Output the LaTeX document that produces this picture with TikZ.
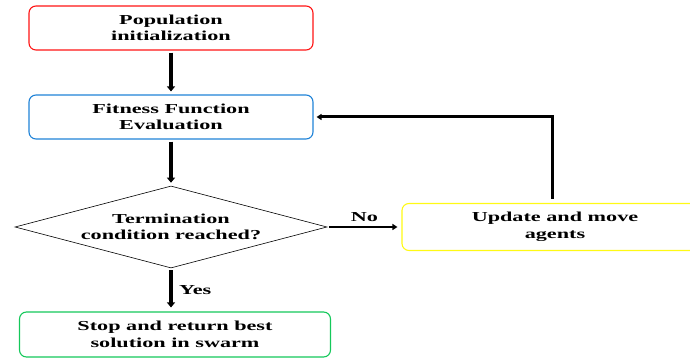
\documentclass[tikz,border=0pt]{standalone}
\usepackage{fontspec}
\setmainfont{Liberation Serif}[FakeStretch=1.62]
\usetikzlibrary{positioning, shapes.geometric, arrows.meta}

\definecolor{boxred}{RGB}{255,20,20}
\definecolor{boxblue}{RGB}{30,130,215}
\definecolor{boxgreen}{RGB}{20,200,90}
\definecolor{boxyellow}{RGB}{255,250,20}

\tikzset{
    stepbox/.style={draw, rounded corners=7pt, line width=1.1pt, align=center,
        minimum width=284pt, minimum height=44pt, inner sep=0pt,
        font=\fontsize{13.7}{16.5}\selectfont\bfseries},
    decision/.style={draw, diamond, shape aspect=3.8, line width=0.6pt, align=center,
        minimum width=312pt, minimum height=82pt, inner sep=0pt,
        font=\fontsize{13.7}{16.5}\selectfont\bfseries},
    flow/.style={line width=3.8pt, -{Triangle[width=8pt,length=5pt]}},
    thinflow/.style={line width=2.2pt, -{Triangle[width=6pt,length=5pt]}},
    lbl/.style={font=\fontsize{13.7}{16.5}\selectfont\bfseries}
}

\begin{document}
\begin{tikzpicture}[x=1pt, y=1pt]
    \useasboundingbox (0,0) rectangle (690,358);

    \node[stepbox, draw=boxred]  (pop) at (171,330) {Population\\initialization};
    \node[stepbox, draw=boxblue] (fit) at (171,241) {Fitness Function\\Evaluation};
    \node[decision]              (term) at (171,131) {Termination\\condition reached?};
    \node[stepbox, draw=boxyellow, minimum width=306pt, minimum height=47pt]
                                 (update) at (555,131) {Update and move\\agents};
    \node[stepbox, draw=boxgreen, minimum width=311pt, minimum height=45pt]
                                 (stop) at (175,23.5) {Stop and return best\\solution in swarm};

    % main flow
    \draw[flow, shorten <=2pt, shorten >=3pt] (pop) -- (fit);
    \draw[flow, shorten <=2pt, shorten >=3pt] (fit) -- (term);
    \draw[flow, shorten <=2pt, shorten >=4pt] (term.south) -- (term.south |- stop.north)
        node[lbl, midway, right=3pt] {Yes};
    \draw[thinflow, shorten <=2pt, shorten >=4pt] (term.east) -- (update.west)
        node[lbl, midway, above=1pt] {No};

    % loop back
    \coordinate (turn) at ([xshift=-3pt]update.north |- fit.east);
    \draw[thinflow, line width=3pt, shorten >=3pt]
        ([xshift=-3pt, yshift=4pt]update.north) -- (turn) -- (fit.east);
\end{tikzpicture}
\end{document}
